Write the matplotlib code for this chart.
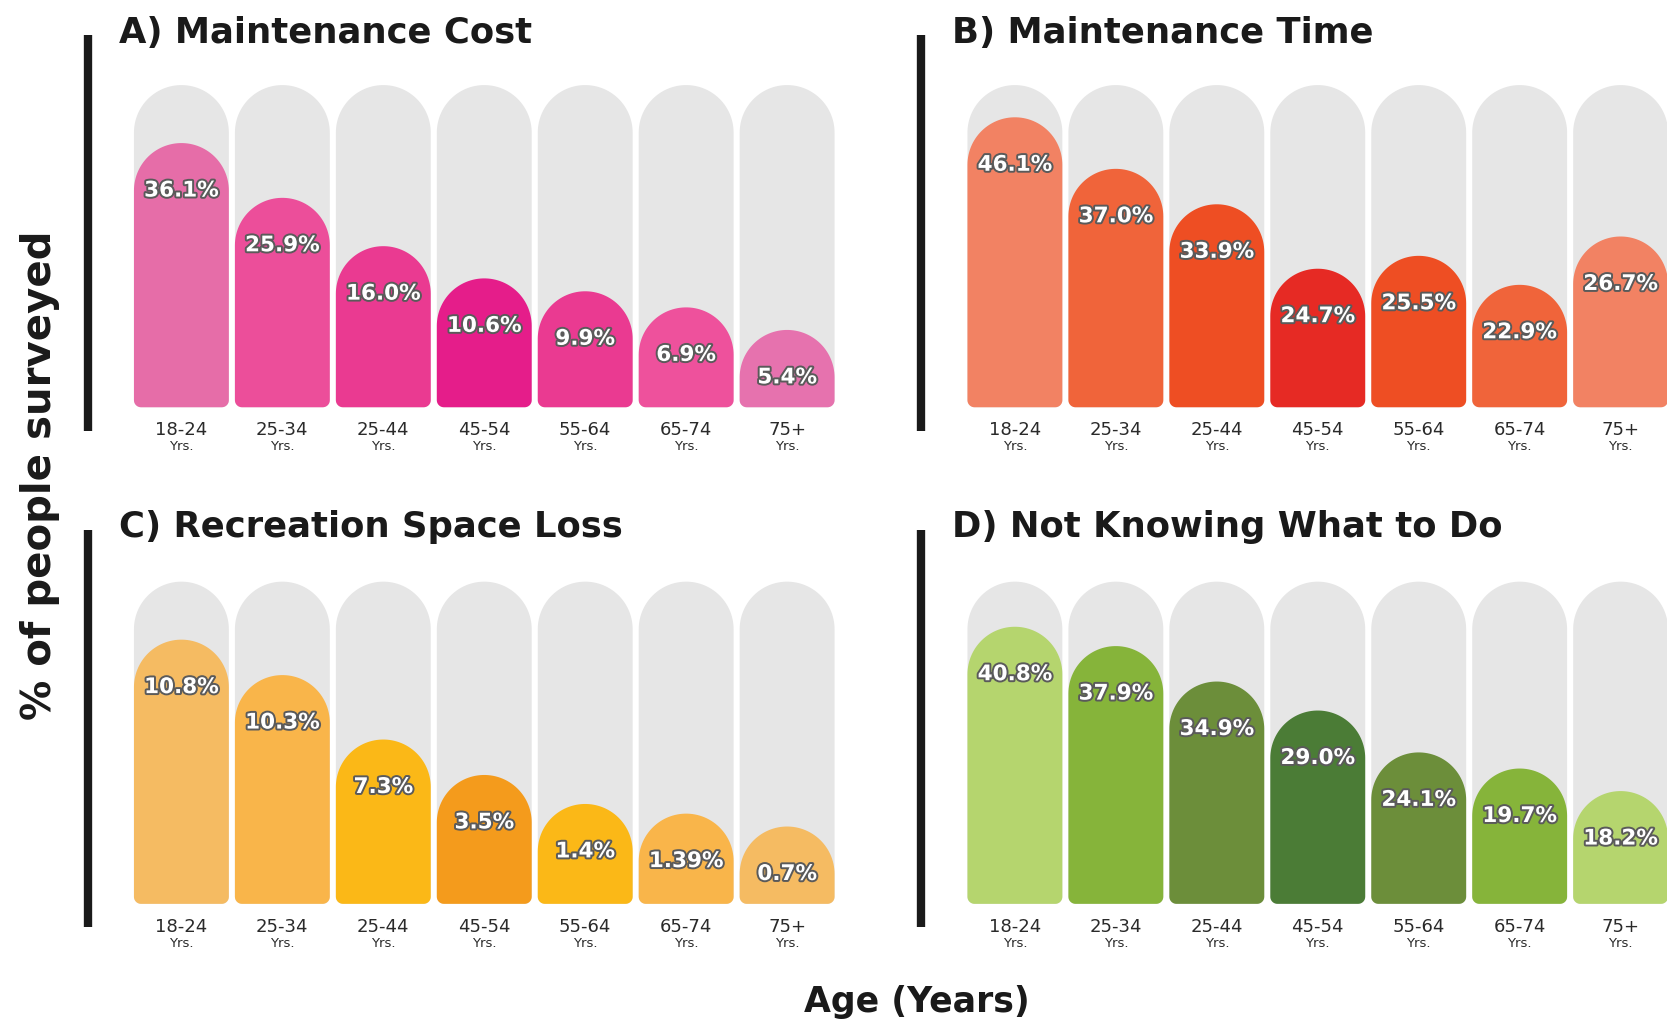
import numpy as np
import matplotlib
matplotlib.use("Agg")
import matplotlib.pyplot as plt
from matplotlib.path import Path
from matplotlib.patches import PathPatch
from matplotlib.lines import Line2D
import matplotlib.patheffects as pe

plt.rcParams["font.family"] = ["DejaVu Sans"]

ages = ["18-24", "25-34", "25-44", "45-54", "55-64", "65-74", "75+"]
titles = ["A) Maintenance Cost", "B) Maintenance Time",
          "C) Recreation Space Loss", "D) Not Knowing What to Do"]

cost_vals = [36.1, 25.9, 16.0, 10.6, 9.9, 6.9, 5.4]
time_vals = [46.1, 37.0, 33.9, 24.7, 25.5, 22.9, 26.7]
space_vals = [10.8, 10.3, 7.3, 3.5, 1.4, 1.39, 0.7]
know_vals = [40.8, 37.9, 34.9, 29.0, 24.1, 19.7, 18.2]

# drawn bar heights as share of the grey column (the graphic is not to scale)
cost_fill = [0.82, 0.65, 0.50, 0.40, 0.36, 0.31, 0.24]
time_fill = [0.90, 0.74, 0.63, 0.43, 0.47, 0.38, 0.53]
space_fill = [0.82, 0.71, 0.51, 0.40, 0.31, 0.28, 0.24]
know_fill = [0.86, 0.80, 0.69, 0.60, 0.47, 0.42, 0.35]

cost_colors = ["#E66DA8", "#EC4E9A", "#EA3A91", "#E51D8A", "#EA3A91", "#EE519C", "#E672AE"]
time_colors = ["#F28263", "#F0643A", "#EE4E23", "#E62A24", "#EE4E23", "#F0643A", "#F28263"]
space_colors = ["#F5BB62", "#F9B54A", "#FBB817", "#F49B1C", "#FBB817", "#F9B54A", "#F5BB62"]
know_colors = ["#B5D56E", "#86B43A", "#6C8E3A", "#4B7C36", "#6C8E3A", "#86B43A", "#B5D56E"]

panels = [
    (titles[0], cost_vals, cost_fill, cost_colors),
    (titles[1], time_vals, time_fill, time_colors),
    (titles[2], space_vals, space_fill, space_colors),
    (titles[3], know_vals, know_fill, know_colors),
]

W, H = 1568.0, 963.0
R = 0.47          # half bar width (pitch = 1)
COL = 3.19        # height of grey column in pitch units


def capsule(xc, h, r=R, rb=0.07):
    t = np.linspace(np.pi, 0, 60)
    arc = np.column_stack([xc + r * np.cos(t), h - r + r * np.sin(t)])
    t1 = np.linspace(0, -np.pi / 2, 10)
    br = np.column_stack([xc + r - rb + rb * np.cos(t1), rb + rb * np.sin(t1)])
    t2 = np.linspace(-np.pi / 2, -np.pi, 10)
    bl = np.column_stack([xc - r + rb + rb * np.cos(t2), rb + rb * np.sin(t2)])
    verts = np.vstack([arc, br, bl, arc[:1]])
    codes = [Path.MOVETO] + [Path.LINETO] * (len(verts) - 2) + [Path.CLOSEPOLY]
    return Path(verts, codes)


fig = plt.figure(figsize=(16.67, 10.24), dpi=100)

# pixel anchors (in the 1568x963 frame): bars left, column bottom, line x, title y
spots = [(126, 383, 83, 31), (910, 383, 866, 31),
         (126, 850, 83, 496), (910, 850, 866, 496)]

for (title, vals, fill, colors), (bx, by, lx, ty) in zip(panels, spots):
    ax = fig.add_axes([bx / W, 1 - by / H, 659 / W, 303 / H])
    ax.set_xlim(-R, 6 + R)
    ax.set_ylim(0, COL)
    ax.axis("off")
    x = np.arange(len(ages))
    for i in x:
        ax.add_patch(PathPatch(capsule(i, COL), facecolor="#E6E6E6",
                               edgecolor="none", clip_on=False))
        h = fill[i] * COL
        ax.add_patch(PathPatch(capsule(i, h), facecolor=colors[i],
                               edgecolor="none", clip_on=False))
        ax.text(i, h - 0.47, f"{vals[i]}%", ha="center", va="center",
                fontsize=15.5, fontweight="bold", color="white", clip_on=False,
                path_effects=[pe.withStroke(linewidth=2.8, foreground="#5a5a5a")])
        ax.annotate(ages[i], (i, 0), xytext=(0, -16.5), textcoords="offset points",
                    ha="center", va="center", fontsize=13, color="#2a2a2a",
                    annotation_clip=False)
        ax.annotate("Yrs.", (i, 0), xytext=(0, -28.5), textcoords="offset points",
                    ha="center", va="center", fontsize=9.5, color="#2a2a2a",
                    annotation_clip=False)

    fig.add_artist(Line2D([lx / W, lx / W], [1 - (ty + 2) / H, 1 - (by + 22) / H],
                          lw=6, color="#1a1a1a", solid_capstyle="butt"))
    fig.text((lx + 29) / W, 1 - ty / H, title, fontsize=25.5, fontweight="bold",
             color="#1a1a1a", va="center", ha="left")

fig.text(38 / W, 1 - 447 / H, "% of people surveyed", rotation=90, fontsize=29,
         fontweight="bold", color="#1a1a1a", ha="center", va="center")
fig.text(862 / W, 1 - 942 / H, "Age (Years)", fontsize=25, fontweight="bold",
         color="#1a1a1a", ha="center", va="center")

fig.savefig("out.png", dpi=100, facecolor="white")
